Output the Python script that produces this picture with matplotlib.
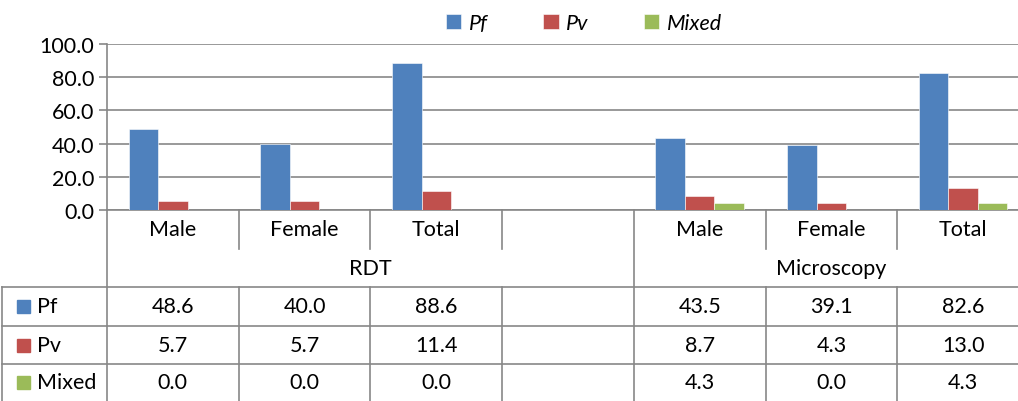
import matplotlib
matplotlib.use('Agg')
import matplotlib.pyplot as plt
from matplotlib.patches import Rectangle
from matplotlib.transforms import blended_transform_factory
import numpy as np

plt.rcParams['font.family'] = ['Lato', 'DejaVu Sans']

groups = ['RDT', 'Microscopy']
group_spans = [(-0.5, 3.5), (3.5, 6.5)]
subcats = ['Male', 'Female', 'Total', '', 'Male', 'Female', 'Total']
positions = [0, 1, 2, 4, 5, 6]
series = ['Pf', 'Pv', 'Mixed']
pf = [48.6, 40.0, 88.6, 43.5, 39.1, 82.6]
pv = [5.7, 5.7, 11.4, 8.7, 4.3, 13.0]
mixed = [0.0, 0.0, 0.0, 4.3, 0.0, 4.3]
colors = ['#4F81BD', '#C0504D', '#9BBB59']

W, H = 1018, 402
fs = 15.5
fig = plt.figure(figsize=(W / 100, H / 100), dpi=100)
# plot area in pixels: x 107..1029, y 45..211
ax = fig.add_axes([107 / W, 1 - 211 / H, 922 / W, 166 / H])

grid_c = '#878787'
bw = 0.224
for k, (vals, c) in enumerate(zip([pf, pv, mixed], colors)):
    ax.bar(np.array(positions) + (k - 1) * bw, vals, bw, color=c,
           edgecolor='white', linewidth=0.4, label=series[k], zorder=3)

ax.set_xlim(-0.5, 6.5)
ax.set_ylim(0, 100)
ax.set_yticks(np.arange(0, 101, 20))
ax.set_yticklabels(['%.1f' % v for v in np.arange(0, 101, 20)], fontsize=fs)
ax.yaxis.grid(True, color=grid_c, linewidth=1.2, zorder=0)
ax.set_xticks([])
for s in ['top', 'right', 'bottom']:
    ax.spines[s].set_visible(False)
ax.spines['left'].set_color(grid_c)
ax.spines['left'].set_linewidth(1.2)
ax.tick_params(axis='y', length=6, width=1.2, color=grid_c, pad=3)

# data table under the plot
tr = blended_transform_factory(ax.transData, ax.transAxes)
px = 1 / 166.0
y_cat = -39 * px
y_grp = -77 * px
y_rows = [-77 * px, -116 * px, -154 * px, -191 * px]
x_left = -0.5 - 105 / 131.7

def line(xs, ys):
    ax.plot(xs, ys, color=grid_c, linewidth=1.2, transform=tr, clip_on=False, zorder=2)

line([-0.5, 6.5], [0, 0])
line([-0.5, -0.5], [0, y_rows[-1]])
line([x_left, x_left], [y_rows[0], y_rows[-1]])
for yy in y_rows[:-1]:
    line([x_left, 6.5], [yy, yy])
for b in np.arange(0.5, 6.5, 1.0):
    if b == 3.5:
        line([b, b], [0, y_rows[-1]])
    else:
        line([b, b], [0, y_cat])
        line([b, b], [y_rows[0], y_rows[-1]])

for i, lab in enumerate(subcats):
    ax.text(i, y_cat / 2, lab, transform=tr, ha='center', va='center', fontsize=fs)
for g, (a, b) in zip(groups, group_spans):
    ax.text((a + b) / 2, (y_cat + y_grp) / 2, g, transform=tr, ha='center',
            va='center', fontsize=fs)

for r, (name, vals, c) in enumerate(zip(series, [pf, pv, mixed], colors)):
    yc = (y_rows[r] + y_rows[r + 1]) / 2
    fig.patches.append(Rectangle((17 / W, 0), 13 / W, 13 / H, color=c,
                                 transform=fig.transFigure))
    fig.patches[-1].set_y(ax.transAxes.transform((0, yc))[1] / H - 6.5 / H)
    ax.text(x_left + 35 / 131.7, yc, name, transform=tr, ha='left', va='center', fontsize=fs)
    for p, v in zip(positions, vals):
        ax.text(p, yc, '%.1f' % v, transform=tr, ha='center', va='center', fontsize=fs)

leg = fig.legend(loc='center', bbox_to_anchor=(584 / W, 1 - 24 / H), ncol=3,
                 frameon=False, prop={'style': 'italic', 'size': fs},
                 handlelength=0.7, handleheight=0.7, handletextpad=0.35,
                 columnspacing=2.6)

fig.savefig('out.png', dpi=100)
